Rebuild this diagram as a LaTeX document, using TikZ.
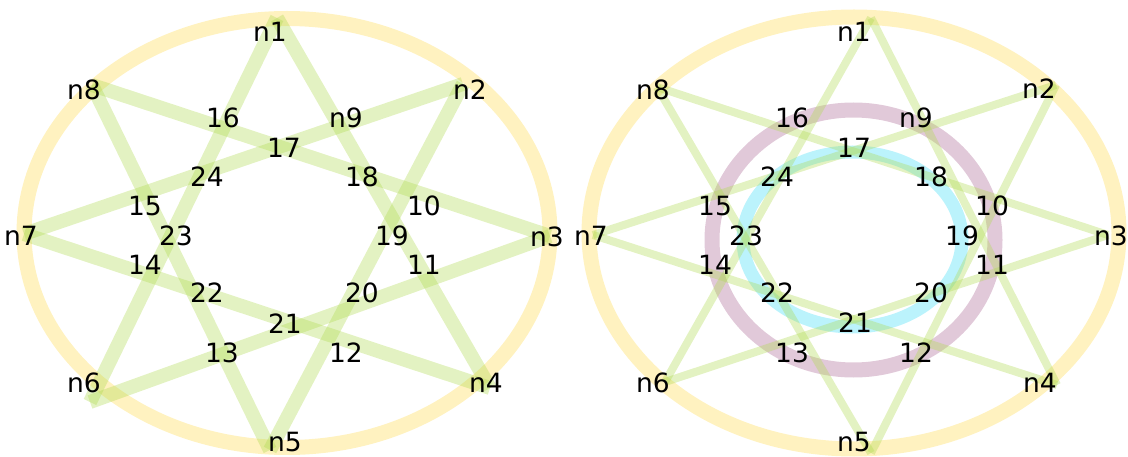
\documentclass[tikz,border=0pt]{standalone}
\usepackage{fontspec}
\setmainfont{DejaVu Sans}
\definecolor{ringyellow}{RGB}{255,242,192}
\definecolor{stargreen}{RGB}{175,218,80}
\definecolor{ringpurple}{RGB}{180,120,160}
\definecolor{ringcyan}{RGB}{60,220,245}
\tikzset{
  lab/.style={inner sep=0pt, font=\fontsize{26.5}{31}\selectfont, text=black},
  outerring/.style={draw=ringyellow, line width=15pt},
  thickedge/.style={draw=stargreen, opacity=0.35, line width=14pt, line cap=butt},
  thinedge/.style={draw=stargreen, opacity=0.35, line width=8pt, line cap=butt},
  purplering/.style={draw=ringpurple, opacity=0.4, line width=15pt},
  cyanring/.style={draw=ringcyan, opacity=0.35, line width=13pt}
}
\begin{document}
\begin{tikzpicture}[x=1pt,y=-1pt]
\useasboundingbox (0,0) rectangle (1128,457);
% ---------- left ----------
\coordinate (LE) at (287,233);
\draw[outerring] (LE) ellipse [x radius=263, y radius=214.5];
\coordinate (Lv1) at (277,18);
\coordinate (Lv2) at (463,84);
\coordinate (Lv3) at (550,236);
\coordinate (Lv4) at (490,388);
\coordinate (Lv5) at (270,450);
\coordinate (Lv6) at (90,402);
\coordinate (Lv7) at (24,234);
\coordinate (Lv8) at (92,85);
\draw[thickedge] (Lv1) -- (Lv4);
\draw[thickedge] (Lv4) -- (Lv7);
\draw[thickedge] (Lv7) -- (Lv2);
\draw[thickedge] (Lv2) -- (Lv5);
\draw[thickedge] (Lv5) -- (Lv8);
\draw[thickedge] (Lv8) -- (Lv3);
\draw[thickedge] (Lv3) -- (Lv6);
\draw[thickedge] (Lv6) -- (Lv1);
\node[lab] (L1) at (270,32) {n1};
\node[lab] (L2) at (470,90) {n2};
\node[lab] (L3) at (547,237) {n3};
\node[lab] (L4) at (486,383) {n4};
\node[lab] (L5) at (285,442) {n5};
\node[lab] (L6) at (84,383) {n6};
\node[lab] (L7) at (21,236) {n7};
\node[lab] (L8) at (84,90) {n8};
\node[lab] (L9) at (346,118) {n9};
\node[lab] (L10) at (424,206) {10};
\node[lab] (L11) at (424,265) {11};
\node[lab] (L12) at (346,353) {12};
\node[lab] (L13) at (222,353) {13};
\node[lab] (L14) at (145,265) {14};
\node[lab] (L15) at (145,206) {15};
\node[lab] (L16) at (223,118) {16};
\node[lab] (L17) at (284,148) {17};
\node[lab] (L18) at (362,177) {18};
\node[lab] (L19) at (392,236) {19};
\node[lab] (L20) at (362,293) {20};
\node[lab] (L21) at (285,324) {21};
\node[lab] (L22) at (207,293) {22};
\node[lab] (L23) at (176,236) {23};
\node[lab] (L24) at (207,177) {24};
% ---------- right ----------
\coordinate (RE) at (854,233);
\draw[outerring] (RE) ellipse [x radius=265, y radius=216];
\coordinate (RP) at (853.5,240);
\draw[purplering] (RP) ellipse [x radius=141.5, y radius=130];
\coordinate (RC) at (852.5,239.5);
\draw[cyanring] (RC) ellipse [x radius=109.5, y radius=87.5];
\coordinate (Rv1) at (871,18);
\coordinate (Rv2) at (1056,85);
\coordinate (Rv3) at (1108,235);
\coordinate (Rv4) at (1057,385);
\coordinate (Rv5) at (871,453);
\coordinate (Rv6) at (665,382);
\coordinate (Rv7) at (593,235);
\coordinate (Rv8) at (657,87);
\draw[thinedge] (Rv1) -- (Rv4);
\draw[thinedge] (Rv4) -- (Rv7);
\draw[thinedge] (Rv7) -- (Rv2);
\draw[thinedge] (Rv2) -- (Rv5);
\draw[thinedge] (Rv5) -- (Rv8);
\draw[thinedge] (Rv8) -- (Rv3);
\draw[thinedge] (Rv3) -- (Rv6);
\draw[thinedge] (Rv6) -- (Rv1);
\node[lab] (R1) at (854,32) {n1};
\node[lab] (R2) at (1039,89) {n2};
\node[lab] (R3) at (1111,236) {n3};
\node[lab] (R4) at (1040,383) {n4};
\node[lab] (R5) at (854,442) {n5};
\node[lab] (R6) at (653,383) {n6};
\node[lab] (R7) at (591,236) {n7};
\node[lab] (R8) at (653,90) {n8};
\node[lab] (R9) at (916,118) {n9};
\node[lab] (R10) at (992,206) {10};
\node[lab] (R11) at (992,265) {11};
\node[lab] (R12) at (916,353) {12};
\node[lab] (R13) at (792,353) {13};
\node[lab] (R14) at (715,265) {14};
\node[lab] (R15) at (715,206) {15};
\node[lab] (R16) at (792,118) {16};
\node[lab] (R17) at (854,148) {17};
\node[lab] (R18) at (931,177) {18};
\node[lab] (R19) at (962,236) {19};
\node[lab] (R20) at (931,293) {20};
\node[lab] (R21) at (855,323) {21};
\node[lab] (R22) at (777,293) {22};
\node[lab] (R23) at (746,236) {23};
\node[lab] (R24) at (777,177) {24};
\end{tikzpicture}
\end{document}
